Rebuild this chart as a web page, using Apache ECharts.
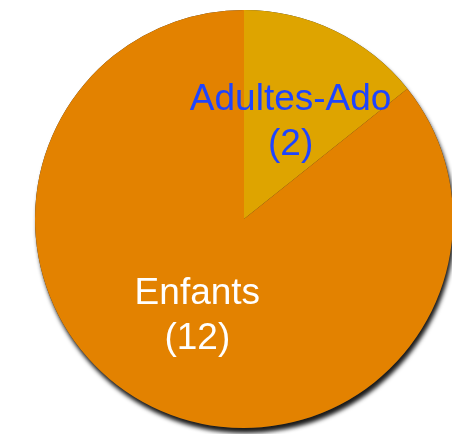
<!DOCTYPE html>
<html>
<head>
<meta charset="utf-8">
<script src="https://cdn.jsdelivr.net/npm/echarts@6/dist/echarts.min.js"></script>
<style>
    html, body { margin: 0; padding: 0; background: #fff; }
    #chart { width: 452px; height: 434px; }
</style>
</head>
<body>
<div id="chart"></div>
<script>
    var categories = ['Adultes-Ado', 'Enfants'];
    var counts = [2, 12];
    var sliceColors = ['#DEA400', '#E38200'];
    var labelColors = ['#1E44FF', '#ffffff'];

    var chart = echarts.init(document.getElementById('chart'));
    var data = [];
    var shadowData = [];
    for (var i = 0; i < categories.length; i++) {
        data.push({
            name: categories[i],
            value: counts[i],
            itemStyle: {color: sliceColors[i]},
            label: {color: labelColors[i]}
        });
        shadowData.push({name: categories[i], value: counts[i]});
    }
    var pieCenter = [244, 219];
    var pieRadius = 209;
    chart.setOption({
        animation: false,
        series: [{
            // shadow layer only, drawn under the real slices
            type: 'pie',
            silent: true,
            center: pieCenter,
            radius: pieRadius,
            startAngle: 90,
            itemStyle: {
                color: '#333',
                borderWidth: 0,
                shadowBlur: 4,
                shadowOffsetX: 2,
                shadowOffsetY: 5,
                shadowColor: 'rgba(0,0,0,0.9)'
            },
            label: {show: false},
            labelLine: {show: false},
            emphasis: {disabled: true},
            data: shadowData
        }, {
            type: 'pie',
            center: pieCenter,
            radius: pieRadius,
            startAngle: 90,
            clockwise: true,
            itemStyle: {borderWidth: 0},
            label: {
                show: true,
                position: 'inside',
                formatter: '{b}\n({c})',
                fontFamily: 'Liberation Sans, Arial, sans-serif',
                fontSize: 37,
                lineHeight: 45
            },
            labelLine: {show: false},
            emphasis: {disabled: true},
            data: data
        }]
    });
</script>
</body>
</html>
